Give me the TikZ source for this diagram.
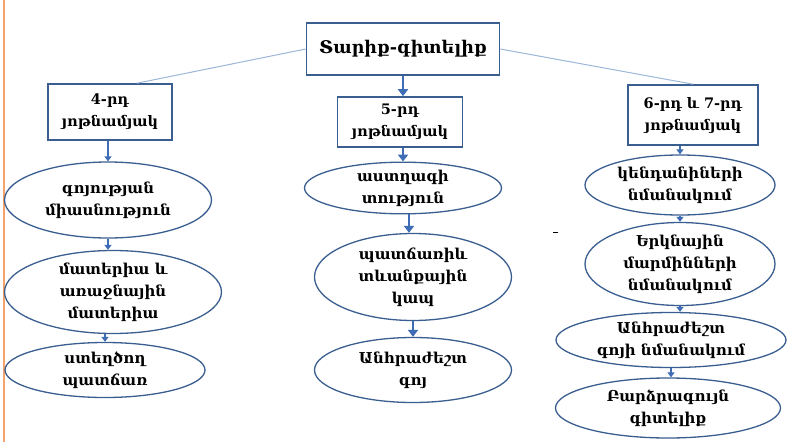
\documentclass[tikz,border=0pt]{standalone}
\usepackage{fontspec}
\setmainfont{DejaVu Serif}
\usetikzlibrary{shapes.geometric,arrows.meta}

\definecolor{boxblue}{HTML}{3B5E91}
\definecolor{linkblue}{HTML}{9DB7DA}
\definecolor{arrblue}{HTML}{3F6DB5}
\definecolor{edgeorange}{HTML}{F3A36B}

\tikzset{
  agebox/.style={draw=boxblue, line width=1.6pt, fill=white, align=center,
    font=\bfseries\fontsize{14.5}{22}\selectfont, inner sep=0pt},
  idea/.style={ellipse, draw=boxblue, line width=1.3pt, align=center,
    font=\bfseries\fontsize{15}{22}\selectfont, inner sep=0pt},
  down/.style={-{Triangle[width=7pt,length=5pt]}, arrblue, line width=1.3pt},
  fatdown/.style={-{Triangle[width=10pt,length=7pt]}, arrblue, line width=2.6pt},
  link/.style={linkblue, line width=1pt},
}

\begin{document}
\begin{tikzpicture}[x=1pt,y=-1pt]
  % Frame of the page
  \fill[white] (0,0) rectangle (790,442);
  \useasboundingbox (0,0) rectangle (790,442);
  \draw[edgeorange, line width=1.5pt] (4,0) -- (4,442);

  % Top box
  \node[agebox, minimum width=193pt, minimum height=52pt,
    font=\bfseries\fontsize{17.5}{20}\selectfont] (age) at (403,49) {Տարիք-գիտելիք};

  % Three age groups
  \node[agebox, minimum width=124pt, minimum height=56pt] (sev4) at (110,112) {4-րդ\\յոթնամյակ};
  \node[agebox, minimum width=125pt, minimum height=50pt] (sev5) at (400,122) {5-րդ\\յոթնամյակ};
  \node[agebox, minimum width=130pt, minimum height=60pt] (sev67) at (693,115) {6-րդ և 7-րդ\\յոթնամյակ};

  % Links from the top box
  \draw[link] (age.west) -- ([xshift=27pt]sev4.north);
  \draw[link] (age.east) -- (sev67.north);
  \draw[fatdown] (age.south) -- (age.south |- sev5.north);

  % Left column
  \node[idea, minimum width=207pt, minimum height=76pt] (being) at (108,200) {գոյության\\միասնություն};
  \node[idea, minimum width=217pt, minimum height=77pt] (matter) at (113,292) {մատերիա և\\առաջնային\\մատերիա};
  \node[idea, minimum width=200pt, minimum height=55pt] (cause) at (105,370) {ստեղծող\\պատճառ};

  \draw[down] (sev4.south -| being.north) -- (being.north);
  \draw[down] (being.south) -- (being.south |- matter.north);
  \draw[down] (matter.south -| cause.north) -- (cause.north);

  % Middle column
  \node[idea, minimum width=197pt, minimum height=49pt] (astro) at (403,188) {աստղագի\\տություն};
  \node[idea, minimum width=197pt, minimum height=87pt] (link) at (413,277) {պատճառիև\\տևանքային\\կապ};
  \node[idea, minimum width=197pt, minimum height=65pt] (need) at (413,370) {Անհրաժեշտ\\գոյ};

  \draw[fatdown] (sev5.south -| astro.north) -- (astro.north);
  \draw[fatdown] ([xshift=6pt]astro.south) -- ([xshift=6pt]astro.south |- link.north);
  \draw[fatdown] (link.south) -- (need.north);

  % Right column
  \node[idea, minimum width=190pt, minimum height=60pt] (animal) at (680,185) {կենդանիների\\նմանակում};
  \node[idea, minimum width=190pt, minimum height=77pt] (sky) at (680,264) {Երկնային\\մարմինների\\նմանակում};
  \node[idea, minimum width=230pt, minimum height=55pt] (needsim) at (671,340) {Անհրաժեշտ\\գոյի նմանակում};
  \node[idea, minimum width=225pt, minimum height=60pt] (wisdom) at (668,408) {Բարձրագույն\\գիտելիք};

  \draw[down] (sev67.south -| animal.north) -- (animal.north);
  \draw[down] (animal.south) -- (animal.south |- sky.north);
  \draw[down] (sky.south) -- (sky.south |- needsim.north);
  \draw[down] (needsim.south) -- (needsim.south |- wisdom.north);

  % stray mark
  \draw[black, line width=0.8pt] (553,232) -- (558,232);
\end{tikzpicture}
\end{document}
